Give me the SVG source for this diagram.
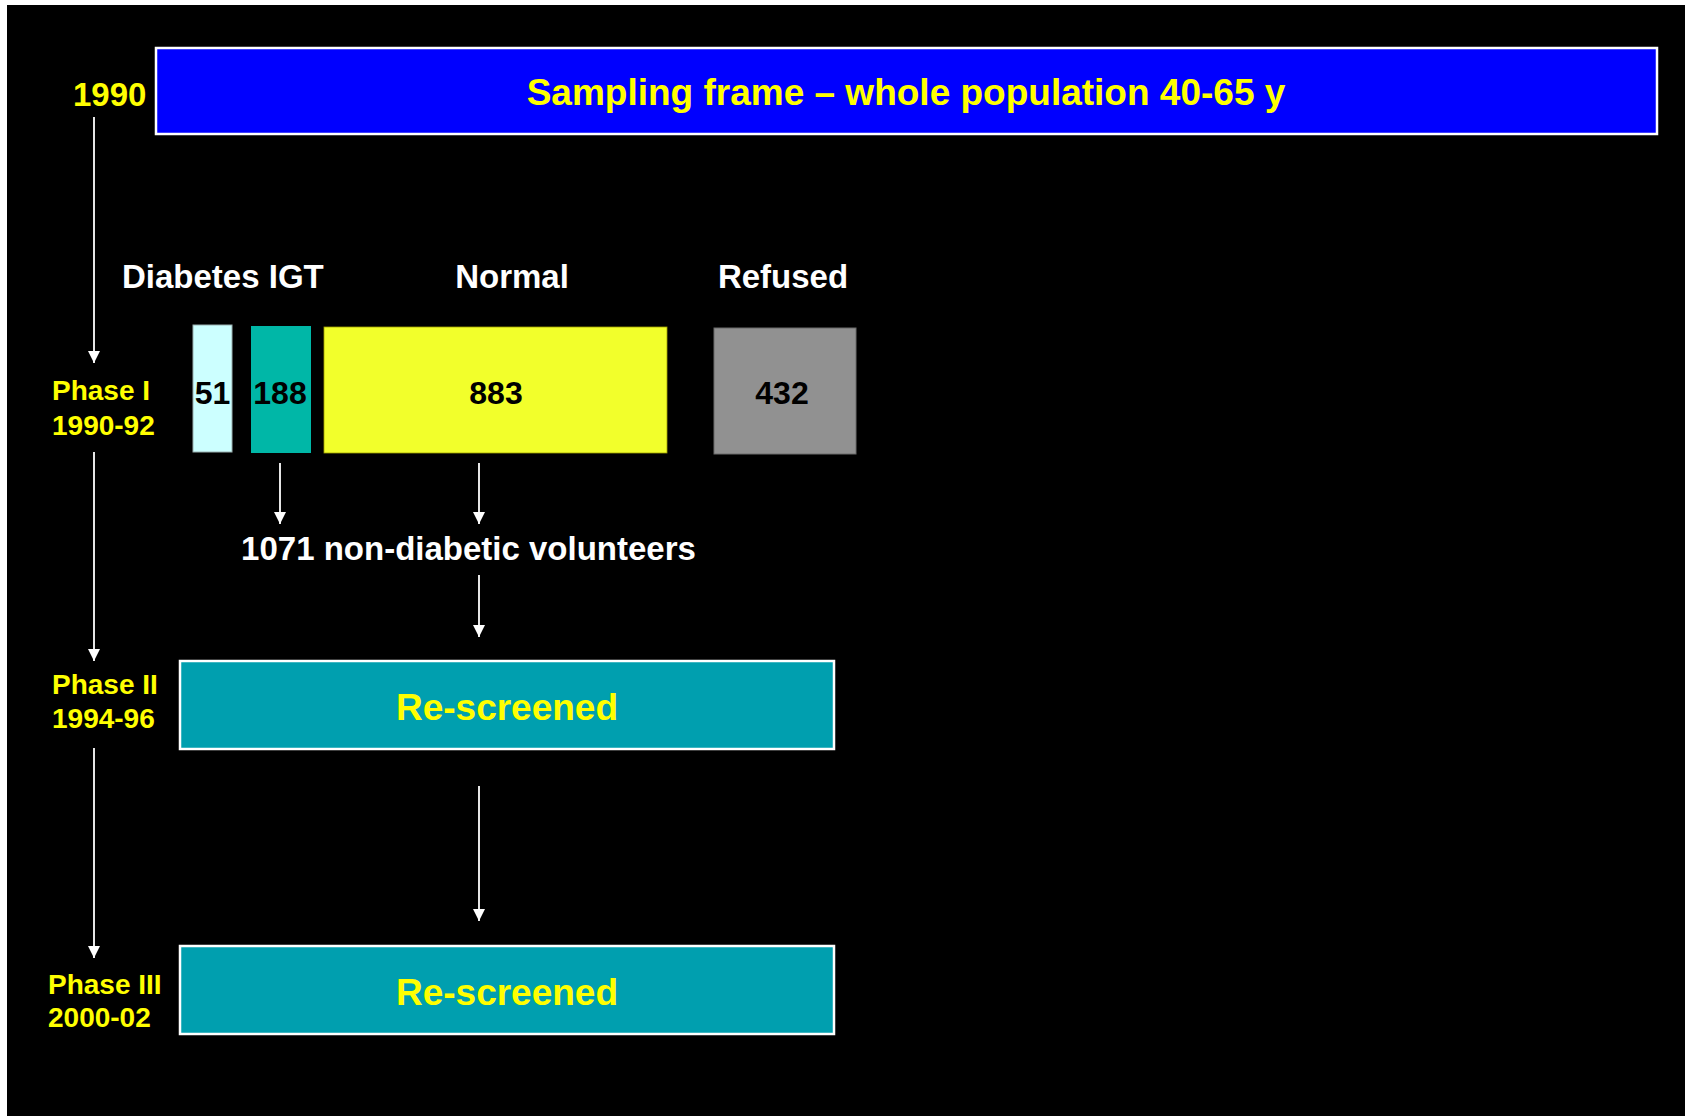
<svg xmlns="http://www.w3.org/2000/svg" width="1685" height="1116" viewBox="0 0 1685 1116">
<style>
text{font-family:"Liberation Sans",Arial,sans-serif;font-weight:bold}
.y{fill:#FFFF00}
.w{fill:#FFFFFF}
.k{fill:#000000}
.ph{font-size:28px}
.big{font-size:37px}
.mid{font-size:33px}
.num{font-size:32px}
.conn{stroke:#FFFFFF;stroke-width:1.8;fill:none;marker-end:url(#ah)}
</style>
<defs>
<marker id="ah" markerUnits="userSpaceOnUse" markerWidth="14" markerHeight="14" refX="12" refY="6" orient="auto">
<path d="M0,0 L12,6 L0,12 Z" fill="#FFFFFF"/>
</marker>
</defs>
<rect x="0" y="0" width="1685" height="1116" fill="#FFFFFF"/>
<rect x="7" y="5" width="1678" height="1111" fill="#000000"/>

<g id="sampling-frame">
<rect x="156" y="48" width="1501" height="86" fill="#0000FF" stroke="#FFFFFF" stroke-width="2.5"/>
<text class="y big" x="906" y="105" text-anchor="middle">Sampling frame – whole population 40-65 y</text>
</g>
<g id="label-1990"><text class="y mid" x="73" y="106">1990</text></g>

<g id="label-phase1"><text class="y ph" x="52" y="400">Phase I</text><text class="y ph" x="52" y="435">1990-92</text></g>
<g id="label-phase2"><text class="y ph" x="52" y="694">Phase II</text><text class="y ph" x="52" y="728">1994-96</text></g>
<g id="label-phase3"><text class="y ph" x="48" y="994">Phase III</text><text class="y ph" x="48" y="1027">2000-02</text></g>

<g id="header-diabetes-igt"><text class="w mid" x="122" y="288">Diabetes IGT</text></g>
<g id="header-normal"><text class="w mid" x="512" y="288" text-anchor="middle">Normal</text></g>
<g id="header-refused"><text class="w mid" x="783" y="288" text-anchor="middle">Refused</text></g>

<g id="box-diabetes">
<rect x="193" y="325" width="39" height="127" fill="#CCFFFF" stroke="#9AAFAF" stroke-width="1"/>
<text class="k num" x="212.5" y="404" text-anchor="middle">51</text>
</g>
<g id="box-igt">
<rect x="251" y="326" width="60" height="127" fill="#00B7A7"/>
<text class="k num" x="280" y="404" text-anchor="middle">188</text>
</g>
<g id="box-normal">
<rect x="324" y="327" width="343" height="126" fill="#F2FF2B" stroke="#A0A000" stroke-width="0.8"/>
<text class="k num" x="496" y="404" text-anchor="middle">883</text>
</g>
<g id="box-refused">
<rect x="714" y="328" width="142" height="126" fill="#919191" stroke="#6A6A6A" stroke-width="1"/>
<text class="k num" x="782" y="404" text-anchor="middle">432</text>
</g>

<g id="label-volunteers"><text class="w mid" x="468.5" y="560" text-anchor="middle">1071 non-diabetic volunteers</text></g>

<g id="box-rescreened-2">
<rect x="180" y="661" width="654" height="88" fill="#009FAF" stroke="#FFFFFF" stroke-width="2.5"/>
<text class="y big" x="507" y="720" text-anchor="middle">Re-screened</text>
</g>
<g id="box-rescreened-3">
<rect x="180" y="946" width="654" height="88" fill="#009FAF" stroke="#FFFFFF" stroke-width="2.5"/>
<text class="y big" x="507" y="1005" text-anchor="middle">Re-screened</text>
</g>

<g id="connectors">
<line class="conn" x1="94" y1="117" x2="94" y2="363"/>
<line class="conn" x1="94" y1="452" x2="94" y2="661"/>
<line class="conn" x1="94" y1="748" x2="94" y2="958"/>
<line class="conn" x1="280" y1="463" x2="280" y2="524"/>
<line class="conn" x1="479" y1="463" x2="479" y2="524"/>
<line class="conn" x1="479" y1="575" x2="479" y2="637"/>
<line class="conn" x1="479" y1="786" x2="479" y2="921"/>
</g>
</svg>
